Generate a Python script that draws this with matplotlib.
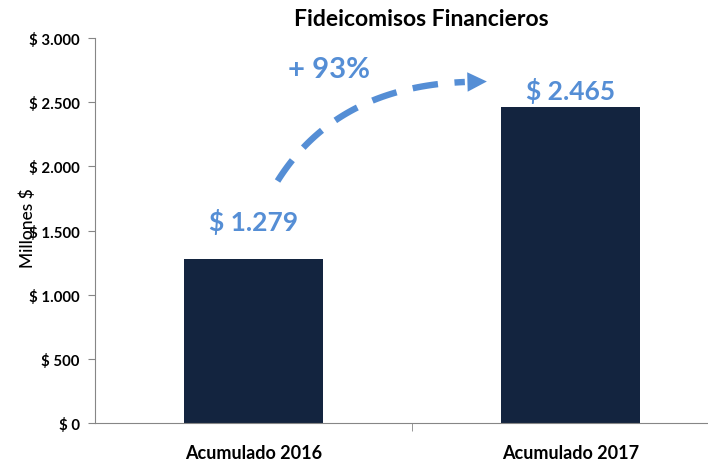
import numpy as np
import matplotlib
matplotlib.use("Agg")
from matplotlib import pyplot as plt
from matplotlib.ticker import FuncFormatter, MultipleLocator, FixedLocator

plt.rcParams["font.family"] = ["Lato", "DejaVu Sans"]

# data
categories = ["Acumulado 2016", "Acumulado 2017"]
values = [1279, 2465]
value_labels = ["$ 1.279", "$ 2.465"]
growth_label = "+ 93%"

BAR = "#13243f"
BLUE = "#558ed5"
GRAY = "#868686"

fig = plt.figure(figsize=(7.08, 4.64), dpi=100)
W, H = 708, 464
ax = fig.add_axes([95 / W, (H - 424) / H, (729 - 95) / W, (424 - 39) / H])

x = np.arange(len(categories))
ax.bar(x, values, width=0.44, color=BAR, zorder=2)

ax.set_xlim(-0.5, len(categories) - 0.5)
ax.set_ylim(0, 3000)

# y axis
ax.yaxis.set_major_locator(MultipleLocator(500))
ax.yaxis.set_major_formatter(FuncFormatter(lambda v, pos: "$ " + f"{int(v):,}".replace(",", ".")))
ax.tick_params(axis="y", direction="out", length=5, color=GRAY, pad=6, labelsize=10.8)
for t in ax.get_yticklabels():
    t.set_fontweight("bold")
ax.set_ylabel("Millones $", fontsize=12.5, fontweight="medium")
ax.yaxis.set_label_coords(-0.093, 0.51)

# x axis: labels at centers, tick marks between categories
ax.set_xticks(x)
ax.set_xticklabels(categories, fontsize=13, fontweight="bold")
ax.tick_params(axis="x", which="major", length=0, pad=15)
ax.xaxis.set_minor_locator(FixedLocator([0.5]))
ax.tick_params(axis="x", which="minor", direction="out", length=6, color=GRAY)

for side in ["top", "right"]:
    ax.spines[side].set_visible(False)
for side in ["left", "bottom"]:
    ax.spines[side].set_color(GRAY)

# value labels above bars
offsets = [295, 130]
for xi, v, lab, off in zip(x, values, value_labels, offsets):
    ax.text(xi, v + off, lab, ha="center", va="center", color=BLUE,
            fontsize=19, fontweight="bold")

# curved dashed growth arrow (quadratic bezier)
def px2data(px, py):
    return (px - 255) / 316.5, (424 - py) / 385 * 3000

p0 = np.array(px2data(279, 182))
p1 = np.array(px2data(338, 88))
p2 = np.array(px2data(466, 83))
t = np.linspace(0, 1, 100)[:, None]
curve = (1 - t) ** 2 * p0 + 2 * (1 - t) * t * p1 + t ** 2 * p2
ax.plot(curve[:, 0], curve[:, 1], color=BLUE, lw=4.6, dashes=(4.0, 2.6),
        solid_capstyle="butt", dash_capstyle="butt", zorder=3)
tip = px2data(488, 82.5)
base = px2data(468, 83)
ax.annotate("", xy=tip, xytext=base,
            arrowprops=dict(arrowstyle="-|>,head_length=1.0,head_width=0.5",
                            color=BLUE, lw=0, mutation_scale=14,
                            shrinkA=0, shrinkB=0))
gx, gy = px2data(330, 70)
ax.text(gx, gy, growth_label, ha="center", va="center", color=BLUE,
        fontsize=21, fontweight="bold")

fig.text(421 / W, 1 - 19 / H, "Fideicomisos Financieros", ha="center",
         va="center", fontsize=16.5, fontweight="bold")

fig.savefig("out.png", dpi=100)
